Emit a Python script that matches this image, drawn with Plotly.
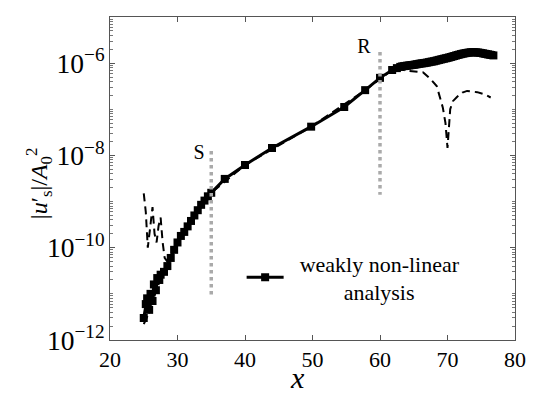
import plotly.graph_objects as go

# weakly non-linear analysis (solid with square markers)
wnl_x = [25.0, 25.3, 25.5, 25.8, 26.0, 26.3, 26.5, 26.8, 27.0, 27.3, 27.5, 28.0, 28.5,
         29.0, 29.5, 30.0, 30.5, 31.0, 31.5, 32.0, 32.5, 33.0, 33.5, 34.0, 34.5, 35.0,
         37.0, 40.0, 44.0, 49.8, 54.7, 57.8, 60.0, 61.8,
         62.5, 63.0, 63.25, 63.5, 63.75, 64.0, 64.25, 64.5, 64.75, 65.0, 65.25, 65.5,
         65.75, 66.0, 66.25, 66.5, 66.75, 67.0, 67.25, 67.5, 67.75, 68.0, 68.25, 68.5,
         68.75, 69.0, 69.25, 69.5, 69.75, 70.0, 70.25, 70.5, 70.75, 71.0, 71.25, 71.5,
         71.75, 72.0, 72.25, 72.5, 72.75, 73.0, 73.25, 73.5, 73.75, 74.0, 74.25, 74.5,
         74.75, 75.0, 75.25, 75.5, 75.75, 76.0, 76.25, 76.5, 76.8]
wnl_y = [3.0e-12, 6.0e-12, 8.0e-12, 4.5e-12, 1.0e-11, 7.0e-12, 1.6e-11, 1.2e-11, 2.2e-11,
         2.0e-11, 2.6e-11, 3.0e-11, 4.0e-11, 6.0e-11, 9.0e-11, 1.3e-10, 1.8e-10, 2.2e-10,
         2.9e-10, 3.8e-10, 5.0e-10, 6.5e-10, 8.5e-10, 1.05e-9, 1.3e-9, 1.55e-9,
         3.1e-9, 6.2e-9, 1.45e-8, 4.2e-8, 1.12e-7, 2.6e-7, 4.8e-7, 7.1e-7,
         7.8e-7, 8.3e-7, 8.45e-7, 8.6e-7, 8.7e-7, 8.8e-7, 8.9e-7, 9.0e-7, 9.1e-7, 9.2e-7,
         9.35e-7, 9.5e-7, 9.65e-7, 9.8e-7, 9.9e-7, 1.0e-6, 1.015e-6, 1.03e-6, 1.05e-6,
         1.07e-6, 1.085e-6, 1.1e-6, 1.125e-6, 1.15e-6, 1.175e-6, 1.2e-6, 1.225e-6,
         1.25e-6, 1.275e-6, 1.3e-6, 1.33e-6, 1.36e-6, 1.395e-6, 1.43e-6, 1.465e-6,
         1.5e-6, 1.535e-6, 1.57e-6, 1.6e-6, 1.63e-6, 1.655e-6, 1.68e-6, 1.7e-6, 1.72e-6,
         1.725e-6, 1.72e-6, 1.71e-6, 1.7e-6, 1.68e-6, 1.66e-6, 1.63e-6, 1.6e-6, 1.575e-6,
         1.55e-6, 1.525e-6, 1.5e-6, 1.47e-6]

# dashed curve
dash_x = [25.0, 25.3, 25.6, 26.0, 26.3, 26.6, 26.9, 27.2, 27.5, 27.8, 28.1, 28.5, 29.0,
          29.5, 30.0, 32.0, 35.0, 40.0, 49.8, 57.8, 61.8, 63.0, 64.0, 65.0, 66.4, 67.5,
          68.4, 69.3, 69.7, 70.0, 70.2, 70.4, 70.8, 71.4, 72.2, 72.9, 74.4, 75.5, 76.4]
dash_y = [1.5e-9, 6.0e-10, 1.0e-10, 3.0e-10, 7.6e-10, 2.0e-10, 1.3e-10, 3.0e-10, 4.5e-10,
          1.3e-10, 6.0e-11, 5.0e-11, 6.5e-11, 9.0e-11, 1.3e-10, 3.8e-10, 1.55e-9, 6.2e-9,
          4.2e-8, 2.6e-7, 7.1e-7, 7.5e-7, 6.8e-7, 6.6e-7, 6.3e-7, 4.5e-7, 3.2e-7, 1.1e-7,
          5.0e-8, 1.45e-8, 4.0e-8, 1.0e-7, 1.5e-7, 1.85e-7, 2.3e-7, 2.5e-7, 2.35e-7,
          2.1e-7, 1.8e-7]

# dotted curve
dot_x = [25.0, 25.4, 25.8, 26.2, 26.6, 27.0, 27.5, 28.0, 28.5, 29.0, 30.0]
dot_y = [2.2e-12, 3.0e-12, 4.0e-12, 7.0e-12, 9.0e-12, 1.4e-11, 2.0e-11, 3.0e-11,
         4.0e-11, 6.0e-11, 1.3e-10]

# station markers S and R
s_x = [35.0, 35.0]
s_y = [1.25e-8, 8.5e-12]
r_x = [60.0, 60.0]
r_y = [1.75e-6, 1.4e-9]
label_x = [33.2, 57.6]
label_y = [1.07e-8, 2.1e-6]
label_text = ["S", "R"]

serif = "Liberation Serif, DejaVu Serif, serif"

fig = go.Figure()
fig.add_trace(go.Scatter(x=dot_x, y=dot_y, mode="lines", showlegend=False,
                         line={"color": "black", "width": 2, "dash": "dot"}))
fig.add_trace(go.Scatter(x=dash_x, y=dash_y, mode="lines", showlegend=False,
                         line={"color": "black", "width": 2, "dash": "8px,5px"}))
fig.add_trace(go.Scatter(x=wnl_x, y=wnl_y, mode="lines+markers",
                         name="&nbsp;&nbsp;weakly non-linear<br>" + "&nbsp;" * 10 + "analysis",
                         line={"color": "black", "width": 3},
                         marker={"symbol": "square", "size": 8, "color": "black"}))
for xs, ys in ((s_x, s_y), (r_x, r_y)):
    fig.add_trace(go.Scatter(x=xs, y=ys, mode="lines", showlegend=False,
                             line={"color": "#aaaaaa", "width": 3.5, "dash": "dot"}))
fig.add_trace(go.Scatter(x=label_x, y=label_y, mode="text", text=label_text,
                         showlegend=False, textfont={"family": serif, "size": 20, "color": "black"}))

axis_common = dict(showline=True, linecolor="#555555", linewidth=1, mirror="ticks",
                   ticks="inside", tickcolor="#555555", showgrid=False, zeroline=False,
                   ticklabeloverflow="allow", automargin=False,
                   tickfont={"family": serif, "size": 22, "color": "black"})

fig.update_layout(
    width=538, height=393,
    margin={"l": 110, "r": 23, "t": 17, "b": 53, "autoexpand": False},
    paper_bgcolor="white", plot_bgcolor="white",
    font={"family": serif, "color": "black"},
    showlegend=True,
    legend={"x": 0.325, "y": 0.193, "xanchor": "left", "yanchor": "middle",
            "bgcolor": "rgba(0,0,0,0)", "itemwidth": 37, "tracegroupgap": 0,
            "font": {"family": serif, "size": 22, "color": "black"}},
    xaxis=dict(axis_common, range=[20, 80], dtick=10, ticklen=5),
    yaxis=dict(axis_common, type="log", range=[-12, -5], dtick=2, tick0=0,
               exponentformat="power", ticklen=5,
               minor={"ticks": "inside", "ticklen": 3, "tickcolor": "#777777", "dtick": "D1"}),
    annotations=[
        dict(text="<i>x</i>", xref="paper", yref="paper", x=0.464, y=-0.115,
             xanchor="center", yanchor="middle", showarrow=False,
             font={"family": serif, "size": 30, "color": "black"}),
        dict(text="|<i>u</i>′<sub>s</sub>|/<i>A</i><sub>0</sub><sup>2</sup>",
             xref="paper", yref="paper", x=-0.175, y=0.486, textangle=-90,
             xanchor="center", yanchor="middle", showarrow=False,
             font={"family": serif, "size": 24, "color": "black"}),
    ],
)

fig.write_html("out.html", config={"displayModeBar": False},
               post_script="document.body.style.margin='0';document.body.style.overflow='hidden';")
